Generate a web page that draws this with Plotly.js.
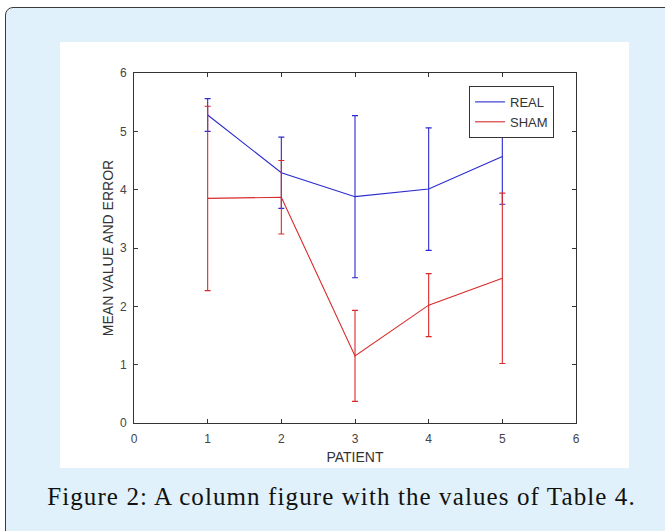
<!DOCTYPE html>
<html>
<head>
<meta charset="utf-8">
<script src="https://cdn.plot.ly/plotly-3.0.1.min.js"></script>
<style>
  html, body { margin: 0; padding: 0; width: 665px; height: 531px; overflow: hidden; background: #ffffff; }
  #frame { position: absolute; left: 5px; top: 7px; width: 700px; height: 600px; box-sizing: border-box;
           border: 1.5px solid #3a3a3a; border-radius: 8px; background: #e0f1fb; }
  #chart { position: absolute; left: 60px; top: 42px; width: 569px; height: 426px; }
  #caption { position: absolute; left: 0px; top: 482px; width: 683px; text-align: center;
             font-family: "Liberation Serif", "DejaVu Serif", serif; font-size: 25px; letter-spacing: 1.1px;
             line-height: 30px; color: #111; white-space: nowrap; }
</style>
</head>
<body>
<div id="frame"></div>
<div id="chart"></div>
<div id="caption">Figure 2: A column figure with the values of Table 4.</div>
<script>
const patients = [1, 2, 3, 4, 5];
const realMean = [5.28, 4.29, 3.88, 4.01, 4.57];
const realErr  = [0.28, 0.61, 1.39, 1.05, 0.82];
const shamMean = [3.85, 3.87, 1.15, 2.02, 2.48];
const shamErr  = [1.58, 0.63, 0.78, 0.54, 1.46];
const xTicks = [0, 1, 2, 3, 4, 5, 6];
const yTicks = [0, 1, 2, 3, 4, 5, 6];

const blue = '#2a2ad0';
const red = '#d82a2a';

const traces = [
  { x: patients, y: realMean, name: 'REAL', mode: 'lines', type: 'scatter',
    line: { color: blue, width: 1.1 },
    error_y: { type: 'data', array: realErr, visible: true, color: blue, thickness: 1.1, width: 3 } },
  { x: patients, y: shamMean, name: 'SHAM', mode: 'lines', type: 'scatter',
    line: { color: red, width: 1.1 },
    error_y: { type: 'data', array: shamErr, visible: true, color: red, thickness: 1.1, width: 3 } }
];

const font = 'Liberation Sans, Arial, sans-serif';
const axisCommon = {
  showgrid: false, zeroline: false, showline: true, linecolor: '#333', linewidth: 1,
  mirror: 'allticks', ticks: 'inside', ticklen: 4, tickcolor: '#333', tickwidth: 1,
  tickfont: { family: font, size: 12, color: '#444' }
};

const layout = {
  width: 569, height: 426,
  margin: { l: 74, r: 53, t: 31, b: 45 },
  paper_bgcolor: '#ffffff', plot_bgcolor: '#ffffff',
  showlegend: true,
  legend: { x: 0.758, y: 0.963, xanchor: 'left', yanchor: 'top', bgcolor: '#ffffff',
            bordercolor: '#333', borderwidth: 1,
            font: { family: font, size: 13, color: '#333' },
            tracegroupgap: 0, itemwidth: 30 },
  xaxis: Object.assign({}, axisCommon, {
    range: [0, 6], tickvals: xTicks, ticktext: xTicks.map(String), ticklabelstandoff: 5,
    title: { text: 'PATIENT', font: { family: font, size: 14, color: '#333' }, standoff: 6 }
  }),
  yaxis: Object.assign({}, axisCommon, {
    range: [0, 6], tickvals: yTicks, ticktext: yTicks.map(String), ticklabelstandoff: 4,
    title: { text: 'MEAN VALUE AND ERROR', font: { family: font, size: 14, color: '#333' }, standoff: 3 }
  })
};

Plotly.newPlot('chart', traces, layout, { displayModeBar: false, staticPlot: true });
</script>
</body>
</html>
